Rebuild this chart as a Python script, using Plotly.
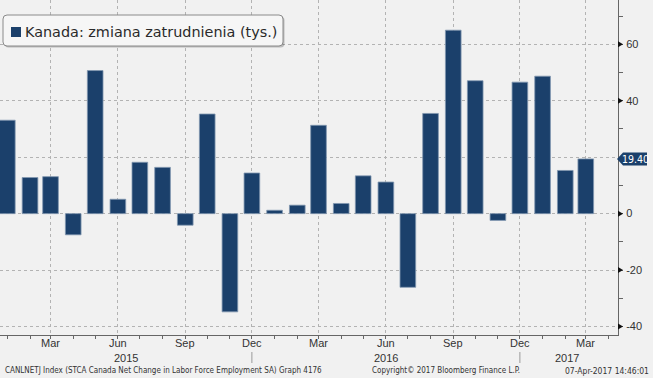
import plotly.graph_objects as go

# ---- data ----
months = ["2015-01-01", "2015-02-01", "2015-03-01", "2015-04-01", "2015-05-01", "2015-06-01",
          "2015-07-01", "2015-08-01", "2015-09-01", "2015-10-01", "2015-11-01", "2015-12-01",
          "2016-01-01", "2016-02-01", "2016-03-01", "2016-04-01", "2016-05-01", "2016-06-01",
          "2016-07-01", "2016-08-01", "2016-09-01", "2016-10-01", "2016-11-01", "2016-12-01",
          "2017-01-01", "2017-02-01", "2017-03-01"]
values = [33.1, 12.8, 13.1, -7.5, 50.7, 5.1, 18.2, 16.4, -4.1, 35.3, -34.8, 14.4,
          1.2, 3.0, 31.3, 3.6, 13.4, 11.2, -26.1, 35.5, 65.0, 47.1, -2.4, 46.6,
          48.7, 15.3, 19.4]
series_name = "Kanada: zmiana zatrudnienia (tys.)"

x_tick_dates = ["2015-03-01", "2015-06-01", "2015-09-01", "2015-12-01",
                "2016-03-01", "2016-06-01", "2016-09-01", "2016-12-01", "2017-03-01"]
x_tick_labels = ["Mar", "Jun", "Sep", "Dec", "Mar", "Jun", "Sep", "Dec", "Mar"]
year_labels = ["2015", "2016", "2017"]
year_label_pos = ["2015-06-12", "2016-06-01", "2017-02-03"]
year_separators = ["2015-12-01", "2016-12-01"]
y_ticks = [-40, -20, 0, 20, 40, 60]

footer_left = "CANLNETJ Index (STCA Canada Net Change in Labor Force Employment SA) Graph 4176"
footer_mid = "Copyright\u00a9 2017 Bloomberg Finance L.P."
footer_right = "07-Apr-2017 14:46:01"

# ---- style / geometry ----
W, H = 653, 378
ML, MR, MT, MB = 0, 35, 0, 43
PW, PH = W - ML - MR, H - MT - MB
Y_RANGE = [-43.0, 75.7]
BAR_COLOR = "#1b406b"
BG = "#f1f1f1"
GRID = "#b3b3b3"
TXT = "#333333"
AX_FONT = "Liberation Sans, Arial, sans-serif"
LEG_FONT = "DejaVu Sans, Verdana, sans-serif"
NARROW_FONT = "Liberation Sans Narrow, DejaVu Sans Condensed, Liberation Sans, sans-serif"
DAY_MS = 86400000


def px_x(px):
    return px / PW


def px_y(py):
    return (PH - py) / PH


def unit_per_px():
    return (Y_RANGE[1] - Y_RANGE[0]) / PH


def rrect(x0, y0, x1, y1, r):
    pts = [
        f"M {px_x(x0 + r)},{px_y(y0)}",
        f"L {px_x(x1 - r)},{px_y(y0)}",
        f"Q {px_x(x1)},{px_y(y0)} {px_x(x1)},{px_y(y0 + r)}",
        f"L {px_x(x1)},{px_y(y1 - r)}",
        f"Q {px_x(x1)},{px_y(y1)} {px_x(x1 - r)},{px_y(y1)}",
        f"L {px_x(x0 + r)},{px_y(y1)}",
        f"Q {px_x(x0)},{px_y(y1)} {px_x(x0)},{px_y(y1 - r)}",
        f"L {px_x(x0)},{px_y(y0 + r)}",
        f"Q {px_x(x0)},{px_y(y0)} {px_x(x0 + r)},{px_y(y0)}",
        "Z",
    ]
    return " ".join(pts)


fig = go.Figure()
fig.add_trace(go.Bar(
    x=months, y=values, name=series_name,
    width=21.4 * DAY_MS,
    marker=dict(color=BAR_COLOR, line=dict(color="#8297b0", width=0.8)),
    showlegend=False,
))

shapes = []
annotations = []

# legend box (shadow + box + swatch)
shapes.append(dict(type="path", xref="paper", yref="paper", path=rrect(4.5, 16.5, 284.5, 47.5, 4),
                   fillcolor="rgba(0,0,0,0.22)", line=dict(width=0), layer="above"))
shapes.append(dict(type="path", xref="paper", yref="paper", path=rrect(3, 15, 283, 46, 4),
                   fillcolor="#f6f6f6", line=dict(color="#8a8a8a", width=1), layer="above"))
shapes.append(dict(type="rect", xref="paper", yref="paper",
                   x0=px_x(11), x1=px_x(21), y0=px_y(37), y1=px_y(27),
                   fillcolor=BAR_COLOR, line=dict(width=0), layer="above"))
annotations.append(dict(xref="paper", yref="paper", x=px_x(23), y=px_y(31.5),
                        xanchor="left", yanchor="middle", showarrow=False,
                        text=series_name, font=dict(family=LEG_FONT, size=14.4, color="#2a2a2a")))

last = values[-1]
hidden = [abs(v - last) < 6 for v in y_ticks]

# right-axis tick triangles
tri_h = 3.0 * unit_per_px()
for v, hid in zip(y_ticks, hidden):
    if hid:
        continue
    shapes.append(dict(type="path", xref="paper", yref="y",
                       path=f"M {px_x(PW)},{v + tri_h} L {px_x(PW + 5)},{v} L {px_x(PW)},{v - tri_h} Z",
                       fillcolor="#111111", line=dict(width=0), layer="above"))

# last value label
lab_h = 6.5 * unit_per_px()
shapes.append(dict(type="path", xref="paper", yref="y",
                   path=f"M {px_x(PW - 1)},{last} L {px_x(PW + 5)},{last + lab_h} "
                        f"L {px_x(PW + 29)},{last + lab_h} L {px_x(PW + 29)},{last - lab_h} "
                        f"L {px_x(PW + 5)},{last - lab_h} Z",
                   fillcolor=BAR_COLOR, line=dict(width=0), layer="above"))
annotations.append(dict(xref="paper", yref="y", x=px_x(PW + 17.5), y=last,
                        xanchor="center", yanchor="middle", showarrow=False,
                        text=f"{last:.2f}", font=dict(family=NARROW_FONT, size=10.5, color="white")))

# month labels
for t, d in zip(x_tick_labels, x_tick_dates):
    annotations.append(dict(xref="x", yref="paper", x=d, y=px_y(343),
                            xanchor="center", yanchor="middle", showarrow=False,
                            text=t, font=dict(family=AX_FONT, size=11, color=TXT)))

# year separators and labels
for d in year_separators:
    shapes.append(dict(type="line", xref="x", yref="paper", x0=d, x1=d,
                       y0=px_y(352), y1=px_y(363), line=dict(color="#9a9a9a", width=1)))
for t, d in zip(year_labels, year_label_pos):
    annotations.append(dict(xref="x", yref="paper", x=d, y=px_y(357.5),
                            xanchor="center", yanchor="middle", showarrow=False,
                            text=t, font=dict(family=AX_FONT, size=11, color=TXT)))

# footer
annotations.append(dict(xref="paper", yref="paper", x=px_x(3), y=px_y(370.5), xanchor="left",
                        yanchor="middle", showarrow=False, text=footer_left,
                        font=dict(family=NARROW_FONT, size=8, color=TXT)))
annotations.append(dict(xref="paper", yref="paper", x=px_x(370), y=px_y(370.5), xanchor="left",
                        yanchor="middle", showarrow=False, text=footer_mid,
                        font=dict(family=NARROW_FONT, size=8, color=TXT)))
annotations.append(dict(xref="paper", yref="paper", x=px_x(651), y=px_y(370.5), xanchor="right",
                        yanchor="middle", showarrow=False, text=footer_right,
                        font=dict(family=NARROW_FONT, size=8.5, color=TXT)))

fig.update_layout(
    width=W, height=H,
    margin=dict(l=ML, r=MR, t=MT, b=MB, pad=0),
    paper_bgcolor=BG, plot_bgcolor=BG,
    shapes=shapes, annotations=annotations,
    showlegend=False,
    xaxis=dict(
        type="date", range=["2014-12-22", "2017-04-14"],
        tickvals=x_tick_dates, ticktext=x_tick_labels, showticklabels=False,
        ticks="outside", ticklen=3, tickcolor="#666666",
        showgrid=True, gridcolor=GRID, griddash="dot", gridwidth=1,
        minor=dict(dtick="M1", ticks="outside", ticklen=3, tickcolor="#666666", showgrid=False),
        showline=True, linecolor="#666666", linewidth=1,
        zeroline=False, automargin=False, fixedrange=True,
    ),
    yaxis=dict(
        side="right", range=Y_RANGE,
        tickvals=y_ticks,
        ticktext=["" if hid else str(v) for v, hid in zip(y_ticks, hidden)],
        ticks="outside", ticklen=5, tickcolor="rgba(0,0,0,0)",
        tickfont=dict(family=AX_FONT, size=11, color=TXT),
        showgrid=True, gridcolor=GRID, griddash="dot", gridwidth=1,
        minor=dict(dtick=10, ticks="outside", ticklen=4, tickcolor="#666666", showgrid=False),
        showline=True, linecolor="#666666", linewidth=1,
        zeroline=False, automargin=False, fixedrange=True,
    ),
)

fig.write_html("out.html", config={"displayModeBar": False},
               post_script="document.body.style.margin='0';document.body.style.background='%s';" % BG)
